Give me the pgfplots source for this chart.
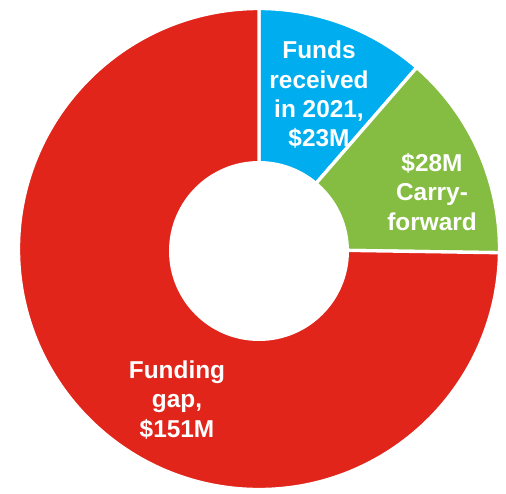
\documentclass[border=0pt]{standalone}
\usepackage{pgfplots}
\pgfplotsset{compat=1.18}
\usepackage{pgfplotstable}
\usepackage{fontspec}
\setmainfont{Liberation Sans}
\definecolor{cblue}{HTML}{00AEEF}
\definecolor{cgreen}{HTML}{84BD41}
\definecolor{cred}{HTML}{E1251B}
\pgfplotstableread{
label value
received 23
carry 28
gap 151
}\donutdata
\begin{document}
\begin{tikzpicture}
\pgfplotstablegetelem{0}{value}\of\donutdata \let\va\pgfplotsretval
\pgfplotstablegetelem{1}{value}\of\donutdata \let\vb\pgfplotsretval
\pgfplotstablegetelem{2}{value}\of\donutdata \let\vc\pgfplotsretval
\pgfmathsetmacro\tot{\va+\vb+\vc}
\pgfmathsetmacro\aA{90}
\pgfmathsetmacro\aB{90-360*(\va/\tot)}
\pgfmathsetmacro\aC{\aB-360*(\vb/\tot)}
\pgfmathsetmacro\aD{\aC-360*(\vc/\tot)}
% centre and radii (pixel units, 1 unit = 0.75pt)
\def\cx{259}\def\cy{239}\def\R{240.5}
\pgfmathsetmacro\Rpt{\R*0.75}
\pgfmathsetmacro\xA{\cx+\R*cos(\aA)}\pgfmathsetmacro\yA{\cy+\R*sin(\aA)}
\pgfmathsetmacro\xB{\cx+\R*cos(\aB)}\pgfmathsetmacro\yB{\cy+\R*sin(\aB)}
\pgfmathsetmacro\xC{\cx+\R*cos(\aC)}\pgfmathsetmacro\yC{\cy+\R*sin(\aC)}
\begin{axis}[scale only axis, width=379.5pt, height=366pt,
  xmin=0, xmax=506, ymin=0, ymax=488, hide axis, clip=false]
\path (rel axis cs:0,0) rectangle (rel axis cs:1,1);
\filldraw[fill=cblue, draw=white, line width=2.5pt, line join=round]
  (axis cs:\cx,\cy) -- (axis cs:\xA,\yA) arc[start angle=\aA, end angle=\aB, radius=\Rpt pt] -- cycle;
\filldraw[fill=cgreen, draw=white, line width=2.5pt, line join=round]
  (axis cs:\cx,\cy) -- (axis cs:\xB,\yB) arc[start angle=\aB, end angle=\aC, radius=\Rpt pt] -- cycle;
\filldraw[fill=cred, draw=white, line width=2.5pt, line join=round]
  (axis cs:\cx,\cy) -- (axis cs:\xC,\yC) arc[start angle=\aC, end angle=\aD, radius=\Rpt pt] -- cycle;
\fill[white] (axis cs:259,237) circle[radius=67.5pt];
\node[text=white, font=\bfseries\fontsize{18.3}{22}\selectfont, align=center]
  at (axis cs:319,393) {Funds\\received\\in 2021,\\\$23M};
\node[text=white, font=\bfseries\fontsize{18.3}{22}\selectfont, align=center]
  at (axis cs:432,296) {\$28M\\Carry-\\forward};
\node[text=white, font=\bfseries\fontsize{18.3}{22}\selectfont, align=center]
  at (axis cs:177,88) {Funding\\gap,\\\$151M};
\end{axis}
\end{tikzpicture}
\end{document}
